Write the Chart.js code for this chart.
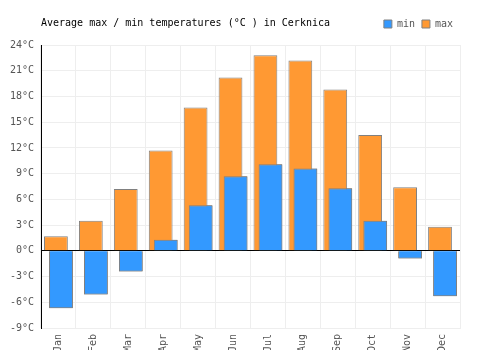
<!DOCTYPE html>
<html>
<head>
<meta charset="utf-8">
<script src="https://cdn.jsdelivr.net/npm/chart.js@4/dist/chart.umd.min.js"></script>
<style>
  html, body { margin: 0; padding: 0; background: #fff; }
  #wrap { width: 500px; height: 350px; }
</style>
</head>
<body>
<div id="wrap"><canvas id="chart"></canvas></div>
<script>
var months = ["Jan","Feb","Mar","Apr","May","Jun","Jul","Aug","Sep","Oct","Nov","Dec"];
var maxTemps = [1.7, 3.5, 7.2, 11.7, 16.7, 20.2, 22.8, 22.2, 18.8, 13.5, 7.4, 2.8];
var minTemps = [-6.7, -5.1, -2.4, 1.3, 5.3, 8.7, 10.1, 9.6, 7.3, 3.5, -0.9, -5.3];
var yTicks = [-9, -6, -3, 0, 3, 6, 9, 12, 15, 18, 21, 24];

var mono = "'DejaVu Sans Mono', monospace";

// min bars sit on top of the max bars, so draw them again after everything
var minOnTop = {
    id: "minOnTop",
    afterDatasetsDraw: function(chart) {
        var meta = chart.getDatasetMeta(1);
        if (!meta.hidden) meta.controller.draw();
    }
};

var chart = new Chart(document.getElementById("chart"), {
    type: "bar",
    data: {
        labels: months,
        datasets: [
            {label: "max", data: maxTemps, backgroundColor: "#FF9933", borderColor: "#808080", borderWidth: 1},
            {label: "min", data: minTemps, backgroundColor: "#3399FF", borderColor: "#808080", borderWidth: 1}
        ]
    },
    options: {
        responsive: true,
        maintainAspectRatio: false,
        animation: false,
        categoryPercentage: 0.29,
        barPercentage: 4.7,
        layout: { padding: { left: 0, right: 40, top: 0, bottom: 0 } },
        plugins: {
            title: {
                display: true,
                text: "Average max / min temperatures (°C ) in Cerknica",
                align: "start",
                fullSize: false,
                color: "#000",
                font: { family: mono, size: 10, weight: "normal" },
                padding: { top: 17, bottom: -17 }
            },
            legend: {
                display: true,
                position: "top",
                align: "end",
                fullSize: false,
                reverse: true,
                labels: {
                    boxWidth: 8,
                    boxHeight: 8,
                    padding: 7,
                    color: "#555",
                    font: { family: mono, size: 10 }
                }
            },
            tooltip: { enabled: false }
        },
        scales: {
            x: {
                grid: { color: "#eeeeee", drawTicks: false, offset: true },
                border: { color: "#eeeeee" },
                ticks: {
                    color: "#555",
                    font: { family: mono, size: 10 },
                    minRotation: 90,
                    maxRotation: 90,
                    padding: 6
                },
                afterFit: function(scale) { scale.height = 22; }
            },
            // empty strip between legend and plot
            spacer: {
                type: "linear",
                position: "top",
                display: true,
                grid: { display: false },
                border: { display: false },
                ticks: { display: false },
                afterFit: function(scale) { scale.height = 6; }
            },
            y: {
                min: -9,
                max: 24,
                afterBuildTicks: function(scale) {
                    scale.ticks = yTicks.map(function(v) { return {value: v}; });
                },
                grid: {
                    drawTicks: false,
                    color: function(ctx) { return ctx.tick && ctx.tick.value === 0 ? "#000" : "#eeeeee"; }
                },
                border: { color: "#000", width: 1 },
                ticks: {
                    color: "#555",
                    font: { family: mono, size: 10 },
                    padding: 7,
                    callback: function(v) { return v + "°C"; }
                },
                afterFit: function(scale) { scale.width = 41; }
            }
        }
    },
    plugins: [minOnTop]
});
</script>
</body>
</html>
